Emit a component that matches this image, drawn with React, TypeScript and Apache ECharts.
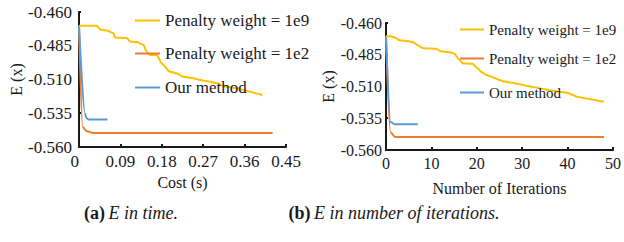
import React, { useEffect, useRef } from 'react';
import * as echarts from 'echarts';

const SERIES_NAMES = ['Penalty weight = 1e9', 'Penalty weight = 1e2', 'Our method'];
const COLORS = ['#FFC000', '#ED7D31', '#5B9BD5'];

// y axis (E(x)) range and step, shared by both panels
const Y_MIN = -0.56;
const Y_MAX = -0.46;
const Y_STEP = 0.025;

// x axis of panel (a): cost in seconds
const TIME_MAX = 0.45;
const TIME_STEP = 0.09;

// x axis of panel (b): iterations
const ITER_MAX = 50;
const ITER_STEP = 10;

// Panel (a): [cost (s), E(x)]
const timePenalty1e9 = [
  [0, -0.4702], [0.038, -0.4702], [0.048, -0.4732], [0.06, -0.4737], [0.075, -0.4756],
  [0.078, -0.4789], [0.104, -0.4793], [0.111, -0.4819], [0.125, -0.4823], [0.14, -0.4843],
  [0.147, -0.4893], [0.154, -0.4918], [0.169, -0.4918], [0.18, -0.4979], [0.183, -0.4992],
  [0.198, -0.5042], [0.212, -0.5054], [0.227, -0.5079], [0.249, -0.5091], [0.263, -0.5104],
  [0.285, -0.5116], [0.299, -0.5128], [0.321, -0.5154], [0.343, -0.5165], [0.357, -0.5178],
  [0.372, -0.5191], [0.394, -0.521], [0.398, -0.522],
];
const timePenalty1e2 = [
  [0, -0.4702], [0.008, -0.5451], [0.0167, -0.5483], [0.031, -0.5496], [0.421, -0.5496],
];
const timeOurMethod = [
  [0, -0.4702], [0.013, -0.5352], [0.016, -0.5385], [0.021, -0.5396], [0.062, -0.5396],
];

// Panel (b): E(x) at iterations 0..48
const iterPenalty1e9 = [
  -0.4705, -0.4705, -0.4715, -0.4736, -0.474, -0.4744, -0.4752, -0.4775, -0.4796, -0.48,
  -0.4801, -0.4803, -0.4822, -0.4826, -0.483, -0.484, -0.4885, -0.4919, -0.4919, -0.4921,
  -0.495, -0.4985, -0.5008, -0.5022, -0.5035, -0.5048, -0.506, -0.5066, -0.5073, -0.508,
  -0.5087, -0.5095, -0.5102, -0.5108, -0.5115, -0.5122, -0.5129, -0.5136, -0.5142, -0.5146,
  -0.515, -0.5165, -0.518, -0.5187, -0.5193, -0.52, -0.5207, -0.5214, -0.5221,
];
// [iteration, E(x)]
const iterPenalty1e2 = [[0, -0.4705], [1, -0.546], [2, -0.5497], [48, -0.5497]];
const iterOurMethod = [[0, -0.4705], [1, -0.538], [2, -0.5398], [7, -0.5398]];

const FONT = "'Liberation Serif', 'Times New Roman', serif";
const TEXT = '#1a1a1a';

function valueAxisY(gridIndex: number, labelMargin: number, nameGap: number, labelSize: number) {
  return {
    type: 'value',
    gridIndex,
    min: Y_MIN,
    max: Y_MAX,
    interval: Y_STEP,
    name: 'E (x)',
    nameLocation: 'middle',
    nameGap,
    nameTextStyle: { fontFamily: FONT, fontSize: 16, color: TEXT },
    axisLine: { show: true, lineStyle: { color: '#1a1a1a', width: 2 } },
    axisTick: { show: true, inside: true, length: 2, lineStyle: { color: '#1a1a1a', width: 2 } },
    splitLine: { show: false },
    axisLabel: {
      fontFamily: FONT,
      fontSize: labelSize,
      color: TEXT,
      margin: labelMargin,
      formatter: (v: number) => v.toFixed(3),
    },
  };
}

function lineSeries(name: string, color: string, data: number[][], idx: number) {
  return {
    type: 'line',
    name,
    data,
    xAxisIndex: idx,
    yAxisIndex: idx,
    symbol: 'none',
    smooth: 0.3,
    smoothMonotone: 'x',
    lineStyle: { color, width: 2 },
    itemStyle: { color },
    z: name === SERIES_NAMES[0] ? 3 : 2,
  };
}

function legendAt(name: string, left: number, top: number, fontSize: number, width: number) {
  return {
    data: [name],
    left,
    top,
    orient: 'vertical',
    padding: 0,
    icon: 'rect',
    itemWidth: width,
    itemHeight: 2,
    selectedMode: false,
    textStyle: { fontFamily: FONT, fontSize, color: TEXT },
  };
}

export default function App() {
  const ref = useRef<HTMLDivElement>(null);
  useEffect(() => {
    if (!ref.current) return;
    const chart = echarts.init(ref.current, null, { renderer: 'svg' });
    const iterYellow = iterPenalty1e9.map((v, i) => [i, v]);
    const captionRich = {
      b: { fontFamily: FONT, fontSize: 18, fontWeight: 'bold', fill: TEXT },
      i: { fontFamily: FONT, fontSize: 18, fontStyle: 'italic', fill: TEXT },
    };
    chart.setOption({
      animation: false,
      backgroundColor: '#ffffff',
      grid: [
        { left: 79, top: 12, width: 207, height: 135 },
        { left: 386, top: 23, width: 229, height: 127 },
      ],
      xAxis: [
        {
          type: 'value',
          gridIndex: 0,
          min: 0,
          max: TIME_MAX,
          interval: TIME_STEP,
          name: 'Cost (s)',
          nameLocation: 'middle',
          nameGap: 27,
          nameTextStyle: { fontFamily: FONT, fontSize: 16, color: TEXT },
          axisLine: { show: true, lineStyle: { color: '#1a1a1a', width: 2 } },
          axisTick: { show: true, inside: true, length: 3, lineStyle: { color: '#1a1a1a', width: 2 } },
          splitLine: { show: false },
          axisLabel: {
            fontFamily: FONT,
            fontSize: 17,
            color: TEXT,
            margin: 6,
            showMinLabel: true,
            showMaxLabel: true,
            alignMinLabel: 'right',
            formatter: (v: number) => (v === 0 ? '0' : v.toFixed(2)),
          },
        },
        {
          type: 'value',
          gridIndex: 1,
          min: 0,
          max: ITER_MAX,
          interval: ITER_STEP,
          name: 'Number of Iterations',
          nameLocation: 'middle',
          nameGap: 30,
          nameTextStyle: { fontFamily: FONT, fontSize: 16, color: TEXT },
          axisLine: { show: true, lineStyle: { color: '#1a1a1a', width: 2 } },
          axisTick: { show: true, inside: true, length: 3, lineStyle: { color: '#1a1a1a', width: 2 } },
          splitLine: { show: false },
          axisLabel: { fontFamily: FONT, fontSize: 16, color: TEXT, margin: 5 },
        },
      ],
      yAxis: [valueAxisY(0, 7, 55, 17), valueAxisY(1, 4, 50, 16)],
      legend: [
        legendAt(SERIES_NAMES[0], 135, 12, 17, 25),
        legendAt(SERIES_NAMES[1], 135, 45, 17, 25),
        legendAt(SERIES_NAMES[2], 135, 79, 17, 25),
        legendAt(SERIES_NAMES[0], 460, 22, 15, 24),
        legendAt(SERIES_NAMES[1], 460, 51, 15, 24),
        legendAt(SERIES_NAMES[2], 460, 85, 15, 24),
      ],
      series: [
        lineSeries(SERIES_NAMES[0], COLORS[0], timePenalty1e9, 0),
        lineSeries(SERIES_NAMES[1], COLORS[1], timePenalty1e2, 0),
        lineSeries(SERIES_NAMES[2], COLORS[2], timeOurMethod, 0),
        lineSeries(SERIES_NAMES[0], COLORS[0], iterYellow, 1),
        lineSeries(SERIES_NAMES[1], COLORS[1], iterPenalty1e2, 1),
        lineSeries(SERIES_NAMES[2], COLORS[2], iterOurMethod, 1),
      ],
      graphic: [
        {
          type: 'text',
          x: 131,
          y: 213,
          style: {
            text: '{b|(a)} {i|E in time.}',
            align: 'center',
            verticalAlign: 'middle',
            rich: captionRich,
          },
        },
        {
          type: 'text',
          x: 394,
          y: 213,
          style: {
            text: '{b|(b)} {i|E in number of iterations.}',
            align: 'center',
            verticalAlign: 'middle',
            rich: captionRich,
          },
        },
      ],
    });
    return () => chart.dispose();
  }, []);
  return (
    <div
      ref={ref}
      style={{ position: 'fixed', left: 0, top: 0, width: 624, height: 242, background: '#fff' }}
    />
  );
}
